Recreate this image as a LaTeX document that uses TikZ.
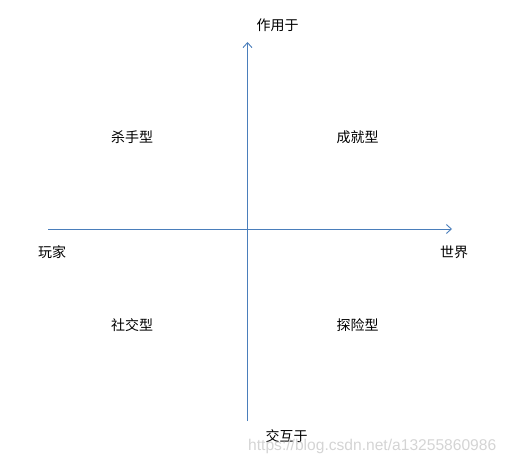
\documentclass[tikz,border=0pt]{standalone}
\usepackage{fontspec}
\newfontfamily\cjk{Noto Sans CJK SC}
\newfontfamily\wmfont{Liberation Sans}
\usetikzlibrary{arrows.meta}
\definecolor{axisblue}{HTML}{4A7EBB}
\definecolor{wmgray}{HTML}{D4D4D4}
\begin{document}
\begin{tikzpicture}[x=1bp,y=-1bp,
  axis/.style={draw=axisblue,line width=0.9bp,-{Straight Barb[length=5bp,width=9bp,line width=0.9bp]}},
  lbl/.style={font=\cjk\fontsize{14bp}{16bp}\selectfont,text=black,inner sep=0pt}]
\useasboundingbox (0,0) rectangle (509,462);
\coordinate (xs) at (48,229);
\coordinate (xe) at (452,229);
\coordinate (ys) at (247.5,421);
\coordinate (ye) at (247.5,42);
\draw[axis] (xs) -- (xe);
\draw[axis] (ys) -- (ye);
\node[lbl] (top) at (277.5,25) {作用于};
\node[lbl] (bot) at (286.5,436) {交互于};
\node[lbl] (left) at (52,252) {玩家};
\node[lbl] (right) at (454,252) {世界};
\node[lbl] (q2) at (132,137) {杀手型};
\node[lbl] (q1) at (357.5,137) {成就型};
\node[lbl] (q3) at (132,325.5) {社交型};
\node[lbl] (q4) at (357.5,325.5) {探险型};
\node[font=\wmfont\fontsize{15.6bp}{18bp}\selectfont,text=wmgray,inner sep=0pt,anchor=base west] (wm) at (248,450) {https://blog.csdn.net/a13255860986};
\end{tikzpicture}
\end{document}
